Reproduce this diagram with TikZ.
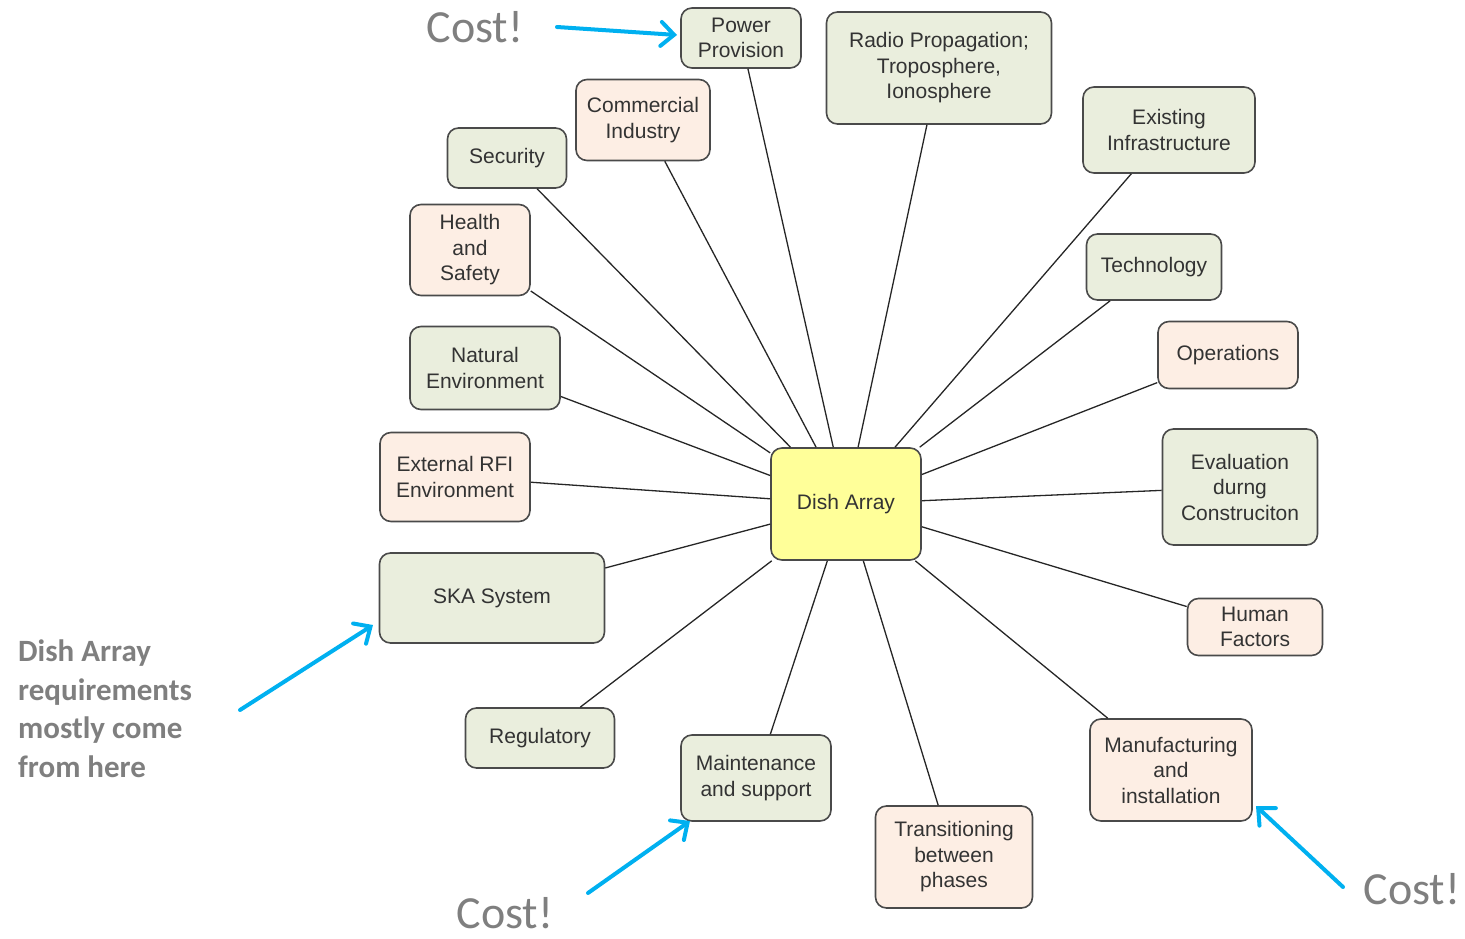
\documentclass[tikz,border=0pt]{standalone}
\usepackage{fontspec}
\setmainfont{Liberation Sans}
\newfontfamily\calib{Carlito}
\usetikzlibrary{arrows.meta}
\definecolor{boxgreen}{HTML}{EAEEDD}
\definecolor{boxpeach}{HTML}{FDEEE4}
\definecolor{boxyellow}{HTML}{FFFF99}
\definecolor{edgegray}{HTML}{4A4A4A}
\definecolor{txtgray}{HTML}{7F7F7F}
\definecolor{arrowblue}{HTML}{00B0F0}
\begin{document}
\begin{tikzpicture}[x=1pt,y=-1pt,
  topic/.style={draw=edgegray, line width=1.6pt, rounded corners=11pt,
    align=center, inner sep=0pt, text=black!80,
    font=\fontsize{21}{25.5}\selectfont},
  green/.style={topic, fill=boxgreen},
  peach/.style={topic, fill=boxpeach},
  hub/.style={topic, fill=boxyellow},
  link/.style={line width=1.3pt, draw=black!85},
  note/.style={text=txtgray, inner sep=0pt, font=\calib\fontsize{46}{50}\selectfont},
  pointer/.style={draw=arrowblue, line width=4pt, line cap=round,
    -{Straight Barb[length=13pt,width=24pt,line cap=round]}}
]
\useasboundingbox (0,0) rectangle (1465,939);

% central hub
\node[hub, minimum width=150pt, minimum height=112pt] (dish) at (846,504) {Dish Array};

% surrounding topics
\node[green, minimum width=120pt, minimum height=60pt]  (power) at (741,38)  {Power\\Provision};
\node[green, minimum width=225pt, minimum height=112pt] (radio) at (939,68)  {Radio Propagation;\\Troposphere,\\Ionosphere};
\node[green, minimum width=172pt, minimum height=86pt]  (infra) at (1169,130) {Existing\\Infrastructure};
\node[peach, minimum width=134pt, minimum height=81pt]  (comm)  at (643,120) {Commercial\\Industry};
\node[green, minimum width=119pt, minimum height=60pt]  (sec)   at (507,158) {Security};
\node[peach, minimum width=120pt, minimum height=91pt]  (hs)    at (470,250) {Health\\and\\Safety};
\node[green, minimum width=135pt, minimum height=66pt]  (tech)  at (1154,267) {Technology};
\node[peach, minimum width=140pt, minimum height=67pt]  (ops)   at (1228,355) {Operations};
\node[green, minimum width=150pt, minimum height=83pt]  (nat)   at (485,368) {Natural\\Environment};
\node[peach, minimum width=150pt, minimum height=89pt]  (rfi)   at (455,477) {External RFI\\Environment};
\node[green, minimum width=155pt, minimum height=116pt] (eval)  at (1240,487) {Evaluation\\durng\\Construciton};
\node[green, minimum width=225pt, minimum height=90pt]  (ska)   at (492,598) {SKA System};
\node[peach, minimum width=135pt, minimum height=57pt]  (human) at (1255,627) {Human\\Factors};
\node[green, minimum width=149pt, minimum height=60pt]  (reg)   at (540,738) {Regulatory};
\node[green, minimum width=150pt, minimum height=86pt]  (maint) at (756,778) {Maintenance\\and support};
\node[peach, minimum width=157pt, minimum height=102pt] (trans) at (954,857) {Transitioning\\between\\phases};
\node[peach, minimum width=162pt, minimum height=102pt] (manuf) at (1171,770) {Manufacturing\\and\\installation};

% spokes to the hub
\foreach \t in {power,radio,infra,comm,sec,hs,tech,ops,nat,rfi,eval,ska,human,reg,maint,trans,manuf}
  \draw[link] (\t) -- (dish);

% annotations
\node[note] (costtop) at (475,27) {Cost!};
\node[note, anchor=base] (costbot) at (505,928) {Cost!};
\node[note] (costright) at (1412,889) {Cost!};
\node[text=txtgray, inner sep=0pt, anchor=north west, align=left,
  font=\calib\bfseries\fontsize{31}{38.5}\selectfont] (origin) at (18,640)
  {Dish Array\\requirements\\mostly come\\from here};

\coordinate (a1s) at (557,27);   \coordinate (a1e) at (677,35);
\coordinate (a2s) at (240,710);  \coordinate (a2e) at (373,625);
\coordinate (a3s) at (588,893);  \coordinate (a3e) at (690,821);
\coordinate (a4s) at (1343,887); \coordinate (a4e) at (1256,806);
\draw[pointer] (a1s) -- (a1e);
\draw[pointer] (a2s) -- (a2e);
\draw[pointer] (a3s) -- (a3e);
\draw[pointer] (a4s) -- (a4e);
\end{tikzpicture}
\end{document}
